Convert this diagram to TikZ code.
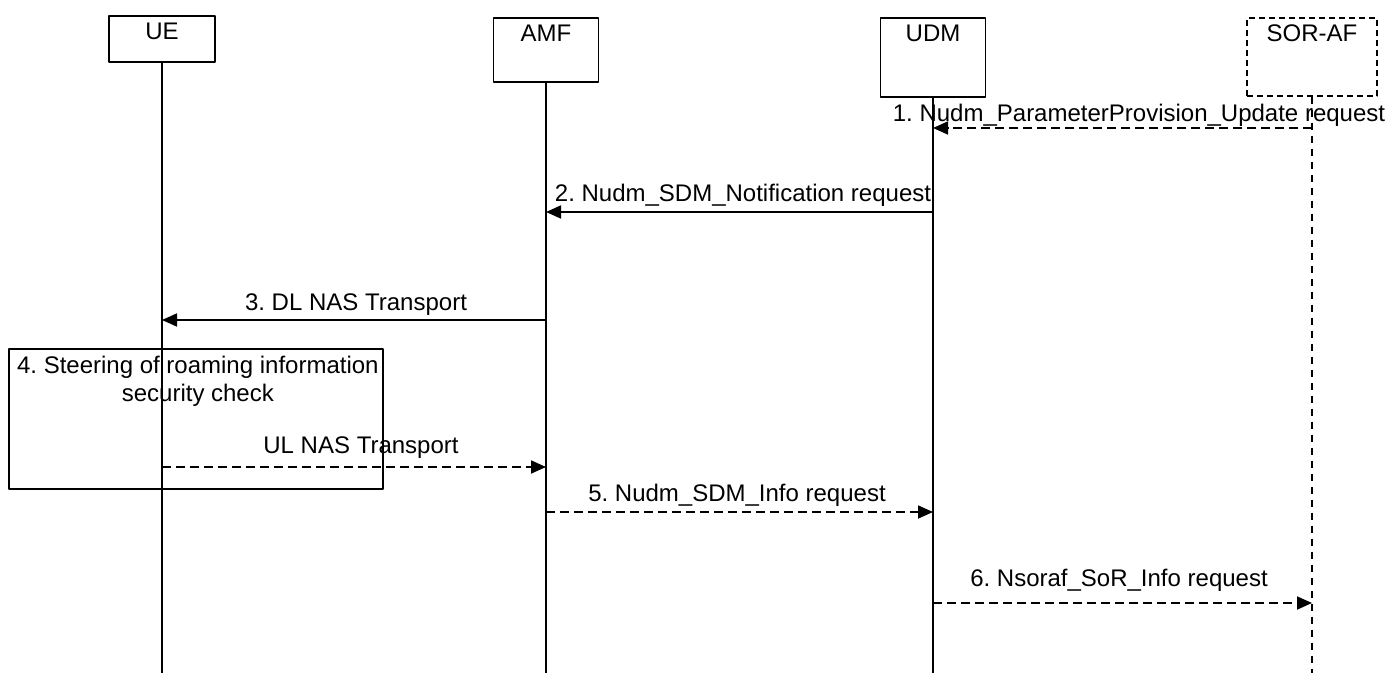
\documentclass[tikz,border=0pt]{standalone}
\usepackage{fontspec}
\setmainfont{Liberation Sans}
\usetikzlibrary{arrows.meta}
\frenchspacing
\begin{document}
\begin{tikzpicture}[x=0.5pt, y=-0.5pt, font=\fontsize{12}{14}\selectfont, line join=round, >={Triangle[length=7.5pt,width=6.5pt]},
		entity/.style={draw, line width=0.85pt, inner sep=0pt, text height=12pt, anchor=north},
		life/.style={line width=0.75pt},
		msg/.style={->, line width=0.9pt},
		msgd/.style={msg, dash pattern=on 4.5pt off 2.5pt},
		lbl/.style={anchor=base}]
	\def\xue{162} \def\xamf{546} \def\xudm{933} \def\xsor{1312} % lifelines
	\useasboundingbox (0,0) rectangle (1396,673);
	\node[entity, minimum width=53pt, text depth=11pt] (ue) at (\xue,15) {UE};
	\node[entity, minimum width=52.5pt, text depth=20pt] (amf) at (\xamf,17) {AMF};
	\node[entity, minimum width=52.5pt, text depth=27.5pt] (udm) at (\xudm,17) {UDM};
	\node[entity, minimum width=65pt, text depth=27pt, dash pattern=on 3pt off 2pt] (sor) at (\xsor,17) {SOR-AF};
	\coordinate (bot) at (0,673);
	\draw[life] (ue.south) -- (ue.south |- bot);
	\draw[life] (amf.south) -- (amf.south |- bot);
	\draw[life] (udm.south) -- (udm.south |- bot);
	\draw[life, dash pattern=on 3.5pt off 3pt] (sor.south) -- (sor.south |- bot);
	\coordinate (r1) at (0,128); \coordinate (r2) at (0,212); \coordinate (r3) at (0,320);
	\coordinate (r4) at (0,467); \coordinate (r5) at (0,512); \coordinate (r6) at (0,603);
	\node[draw, line width=0.85pt, inner sep=0pt, minimum width=187pt, minimum height=70pt, anchor=north west] (chk) at (8,348) {};
	\node[anchor=north, align=center, inner sep=0pt] (chktext) at ([xshift=1pt, yshift=-4pt]chk.north) {4. Steering of roaming information\\security check};
	\draw[msgd] (sor.south |- r1) -- node[lbl, xshift=8.25pt, yshift=3.25pt] (l1) {1. Nudm\_ParameterProvision\_Update request} (udm.south |- r1);
	\draw[msg] (udm.south |- r2) -- node[lbl, xshift=1.75pt, yshift=5.25pt] (l2) {2. Nudm\_SDM\_Notification request} (amf.south |- r2);
	\draw[msg] (amf.south |- r3) -- node[lbl, xshift=1pt, yshift=4.75pt] (l3) {3. DL NAS Transport} (ue.south |- r3);
	\draw[msgd] (ue.south |- r4) -- node[lbl, xshift=3.5pt, yshift=6.75pt] (l4) {UL NAS Transport} (amf.south |- r4);
	\draw[msgd] (amf.south |- r5) -- node[lbl, xshift=-1.25pt, yshift=5.25pt] (l5) {5. Nudm\_SDM\_Info request} (udm.south |- r5);
	\draw[msgd] (udm.south |- r6) -- node[lbl, xshift=-1.75pt, yshift=8.25pt] (l6) {6. Nsoraf\_SoR\_Info request} (sor.south |- r6);
\end{tikzpicture}
\end{document}
